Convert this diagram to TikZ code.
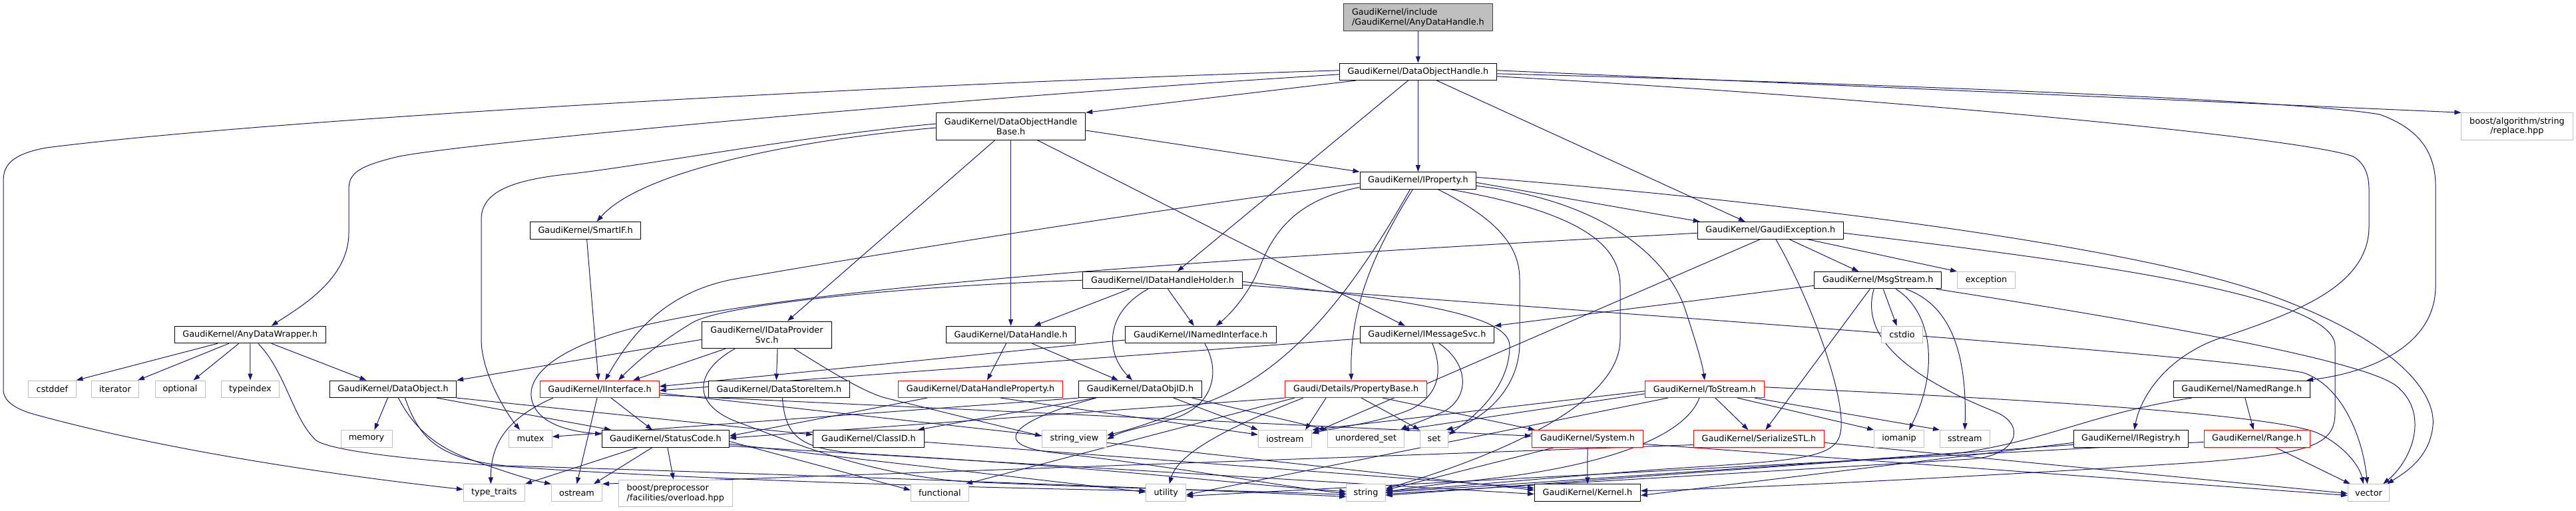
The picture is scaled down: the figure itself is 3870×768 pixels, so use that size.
\documentclass[tikz,border=0pt]{standalone}
\usepackage{fontspec}
\setmainfont{DejaVu Sans}
\usetikzlibrary{arrows.meta}
\pgfdeclarelayer{bg}
\pgfsetlayers{bg,main}
\definecolor{edgec}{HTML}{191970}
\definecolor{grayb}{HTML}{BFBFBF}
\definecolor{topb}{HTML}{404040}
\newcommand\nfont{\fontsize{12.8pt}{14.7pt}\selectfont}
\tikzset{
  nbase/.style={rectangle, inner sep=0pt, font=\nfont, minimum height=25.5pt, line width=1pt, fill=white, align=center},
  ndoc/.style={nbase, draw=black},
  nsys/.style={nbase, draw=grayb},
  ntrunc/.style={nbase, draw=red},
  ntwo/.style={minimum height=40.6pt},
  lnk/.style={draw=edgec, line width=1pt, -{Triangle[length=10pt,width=7pt]}}
}
\begin{document}
\begin{tikzpicture}[x=1pt,y=-1pt]
\useasboundingbox (0,0) rectangle (3870,768);
% row 0
\node[nbase, draw=topb, fill=grayb, ntwo, align=left, minimum width=223.4pt] (top) at (2130.4,26.2) {GaudiKernel/include\\/GaudiKernel/AnyDataHandle.h};
% row 1
\node[ndoc, minimum width=235.9pt] (doh) at (2130.4,107.8) {GaudiKernel/DataObjectHandle.h};
% row 2
\node[ndoc, ntwo, minimum width=224.3pt] (dohb) at (1518.6,190) {GaudiKernel/DataObjectHandle\\Base.h};
\node[nsys, ntwo, minimum width=167.1pt] (boostalg) at (3781.4,190) {boost/algorithm/string\\/replace.hpp};
% row 3
\node[ndoc, minimum width=174.6pt] (iprop) at (2130.4,271.4) {GaudiKernel/IProperty.h};
% row 4
\node[ndoc, minimum width=165.8pt] (smartif) at (879.6,346.3) {GaudiKernel/SmartIF.h};
\node[ndoc, minimum width=219.2pt] (gexc) at (2659.8,346.3) {GaudiKernel/GaudiException.h};
% row 5
\node[ndoc, minimum width=240pt] (idhh) at (1746.6,421.2) {GaudiKernel/IDataHandleHolder.h};
\node[ndoc, minimum width=190.7pt] (msgs) at (2821.2,421.2) {GaudiKernel/MsgStream.h};
\node[nsys, minimum width=87pt] (exception) at (2984,421.2) {exception};
% row 6
\node[ndoc, minimum width=226.8pt] (adw) at (375.8,503) {GaudiKernel/AnyDataWrapper.h};
\node[ndoc, ntwo, minimum width=195pt] (idps) at (1152,503.3) {GaudiKernel/IDataProvider\\Svc.h};
\node[ndoc, minimum width=194.4pt] (dh) at (1518.6,503) {GaudiKernel/DataHandle.h};
\node[ndoc, minimum width=226.8pt] (ini) at (1803.8,503) {GaudiKernel/INamedInterface.h};
\node[ndoc, minimum width=201.5pt] (imsg) at (2143.9,503) {GaudiKernel/IMessageSvc.h};
\node[nsys, minimum width=61.7pt] (cstdio) at (2857.5,503) {cstdio};
% row 7
\node[nsys, minimum width=71.3pt] (cstddef) at (78.4,584.8) {cstddef};
\node[nsys, minimum width=70.9pt] (iterator) at (173,584.8) {iterator};
\node[nsys, minimum width=75pt] (optional) at (270.5,584.8) {optional};
\node[nsys, minimum width=87pt] (typeindex) at (376,584.8) {typeindex};
\node[ndoc, minimum width=190.2pt] (dobj) at (590.5,584.8) {GaudiKernel/DataObject.h};
\node[ntrunc, minimum width=178.3pt] (iint) at (901,584.8) {GaudiKernel/IInterface.h};
\node[ndoc, minimum width=211.8pt] (dsi) at (1170.4,584.8) {GaudiKernel/DataStoreItem.h};
\node[ntrunc, minimum width=247.1pt] (dhp) at (1473,584.8) {GaudiKernel/DataHandleProperty.h};
\node[ndoc, minimum width=184.5pt] (doid) at (1713,584.8) {GaudiKernel/DataObjID.h};
\node[ntrunc, minimum width=213.5pt] (pb) at (2037.1,584.8) {Gaudi/Details/PropertyBase.h};
\node[ntrunc, minimum width=179pt] (tos) at (2560.9,584.8) {GaudiKernel/ToStream.h};
\node[ndoc, minimum width=205.5pt] (nr) at (3367.8,584.8) {GaudiKernel/NamedRange.h};
% row 8
\node[nsys, minimum width=77pt] (memory) at (550.5,659.3) {memory};
\node[nsys, minimum width=64.6pt] (mutex) at (797,659.3) {mutex};
\node[ndoc, minimum width=190.7pt] (sc) at (999.9,659.3) {GaudiKernel/StatusCode.h};
\node[ndoc, minimum width=166.6pt] (classid) at (1305,659.3) {GaudiKernel/ClassID.h};
\node[nsys, minimum width=97pt] (sv) at (1614,659.3) {string\_view};
\node[nsys, minimum width=80.3pt] (iostream) at (1930.5,659.3) {iostream};
\node[nsys, minimum width=115pt] (uset) at (2052,659.3) {unordered\_set};
\node[nsys, minimum width=42.7pt] (set) at (2154.5,659.3) {set};
\node[ntrunc, minimum width=167.1pt] (sysh) at (2385,659.3) {GaudiKernel/System.h};
\node[ntrunc, minimum width=196pt] (sstl) at (2642.4,659.3) {GaudiKernel/SerializeSTL.h};
\node[nsys, minimum width=74.6pt] (iomanip) at (2853,659.3) {iomanip};
\node[nsys, minimum width=74.6pt] (sstream) at (2951.8,659.3) {sstream};
\node[ndoc, minimum width=171.7pt] (ireg) at (3201.4,659.3) {GaudiKernel/IRegistry.h};
\node[ntrunc, minimum width=159pt] (range) at (3390.5,659.3) {GaudiKernel/Range.h};
% row 9
\node[nsys, minimum width=92pt] (tt) at (742.4,740.6) {type\_traits};
\node[nsys, minimum width=75.9pt] (ostream) at (866.5,740.6) {ostream};
\node[nsys, ntwo, align=left, minimum width=170.8pt] (bpp) at (1014.8,741.6) {boost/preprocessor\\/facilities/overload.hpp};
\node[nsys, minimum width=87.1pt] (functional) at (1411.9,740.6) {functional};
\node[nsys, minimum width=59.7pt] (utility) at (1751.8,740.6) {utility};
\node[nsys, minimum width=58.5pt] (string) at (2052,740.6) {string};
\node[ndoc, minimum width=158.8pt] (kernel) at (2384.9,740.6) {GaudiKernel/Kernel.h};
\node[nsys, minimum width=62.4pt] (vector) at (3558.5,740.6) {vector};

\begin{pgfonlayer}{bg}
\draw[lnk] (top) -- (doh);
% DataObjectHandle
\draw[lnk] ([xshift=25pt]doh.south west) -- (dohb.north east);
\draw[lnk] (doh) -- (iprop);
\draw[lnk] ([yshift=-4pt]doh.west) .. controls (1400,150) and (700,215) .. (600,235) .. controls (535,250) and (524,262) .. (524,285) -- (524,350) .. controls (524,420) and (450,462) .. ([xshift=32pt]adw.north);
\draw[lnk] ([yshift=2pt]doh.west) .. controls (1300,128) and (400,180) .. (70,222) .. controls (15,232) and (5,250) .. (5,272) -- (5,585) .. controls (5,602) and (20,615) .. (60,625) .. controls (300,690) and (600,725) .. ([yshift=5pt]tt.west);
\draw[lnk] ([xshift=-15pt]doh.south) -- ([xshift=22pt]idhh.north);
\draw[lnk] ([xshift=28pt]doh.south) -- ([xshift=-38pt]gexc.north);
\draw[lnk] ([yshift=2pt]doh.east) -- (boostalg.north west);
\draw[lnk] ([yshift=-3pt]doh.east) .. controls (2800,125) and (3450,150) .. (3575,172) .. controls (3640,195) and (3659,235) .. (3659,280) -- (3659,430) .. controls (3659,520) and (3560,560) .. ([xshift=-6pt]nr.north east);
\draw[lnk] ([yshift=-7pt]doh.east) .. controls (2800,145) and (3450,205) .. (3535,235) .. controls (3552,245) and (3559,262) .. (3559,285) -- (3559,340) .. controls (3559,430) and (3450,470) .. (3330,510) .. controls (3250,540) and (3215,600) .. ([xshift=5pt]ireg.north);
% DataObjectHandleBase
\draw[lnk] ([yshift=4pt]dohb.west) .. controls (1200,205) and (950,252) .. (850,262) .. controls (760,272) and (723,292) .. (723,330) -- (723,510) .. controls (723,560) and (760,620) .. ([xshift=-16pt]mutex.north);
\draw[lnk] ([yshift=-2pt]dohb.west) .. controls (1180,212) and (960,260) .. ([xshift=17pt]smartif.north);
\draw[lnk] ([xshift=-24pt]dohb.south) -- ([xshift=31pt]idps.north);
\draw[lnk] (dohb) -- (dh);
\draw[lnk] ([xshift=40pt]dohb.south) -- ([xshift=-33pt]imsg.north);
\draw[lnk] ([yshift=-6pt]dohb.east) -- (iprop.north west);
% IProperty
\draw[lnk] ([yshift=-4pt]iprop.west) .. controls (1700,320) and (1300,385) .. (1100,420) .. controls (1000,440) and (950,500) .. ([xshift=8pt]iint.north);
\draw[lnk] ([yshift=-10pt]iprop.west) .. controls (1950,300) and (1915,345) .. (1893,400) .. controls (1875,445) and (1845,475) .. ([xshift=23pt]ini.north);
\draw[lnk] ([xshift=-12pt]iprop.south) .. controls (2020,460) and (1920,575) .. (1790,612) .. controls (1740,632) and (1700,645) .. ([yshift=5pt]sv.east);
\draw[lnk] ([xshift=-8pt]iprop.south) .. controls (2050,400) and (2028,480) .. ([xshift=-7pt]pb.north);
\draw[lnk] ([xshift=30pt]iprop.south) .. controls (2250,330) and (2283,370) .. (2283,420) -- (2283,515) .. controls (2283,590) and (2220,635) .. ([xshift=-4pt]set.north east);
\draw[lnk] ([xshift=48pt]iprop.south) .. controls (2380,320) and (2434,370) .. (2434,430) -- (2434,510) .. controls (2434,620) and (2200,700) .. ([yshift=6pt]string.east);
\draw[lnk] ([yshift=-3pt]iprop.east) -- ([xshift=4pt]gexc.north west);
\draw[lnk] ([yshift=-8pt]iprop.east) .. controls (2400,300) and (2500,380) .. (2530,460) .. controls (2550,520) and (2558,550) .. (tos.north);
\draw[lnk] ([yshift=5pt]iprop.east) .. controls (2700,305) and (3200,370) .. (3400,440) .. controls (3600,510) and (3660,590) .. (3655,640) .. controls (3650,690) and (3610,712) .. ([xshift=-4pt]vector.north east);
% SmartIF
\draw[lnk] ([xshift=2pt]smartif.south) -- ([xshift=-2pt]iint.north);
% GaudiException
\draw[lnk] ([yshift=-4pt]gexc.west) .. controls (2000,380) and (1300,420) .. (1000,482) .. controls (850,512) and (785,560) .. (800,605) .. controls (810,635) and (850,648) .. ([yshift=7pt]sc.west);
\draw[lnk] ([xshift=-15pt]gexc.south) -- ([yshift=8pt]iostream.east);
\draw[lnk] ([xshift=8pt]gexc.south) .. controls (2720,450) and (2775,600) .. (2765,650) .. controls (2758,690) and (2700,692) .. (2500,705) .. controls (2300,720) and (2150,735) .. ([yshift=3pt]string.east);
\draw[lnk] ([xshift=28pt]gexc.south) -- ([xshift=-29pt]msgs.north);
\draw[lnk] ([xshift=55pt]gexc.south) -- (exception.north west);
\draw[lnk] ([yshift=-4pt]gexc.east) .. controls (3100,390) and (3508,440) .. (3508,520) -- (3508,620) .. controls (3508,670) and (3470,682) .. (3300,695) .. controls (3000,715) and (2600,735) .. ([yshift=3pt]kernel.east);
% IDataHandleHolder
\draw[lnk] ([xshift=-50pt]idhh.south) -- ([xshift=35pt]dh.north);
\draw[lnk] ([xshift=-22pt]idhh.south) .. controls (1660,470) and (1660,530) .. ([xshift=-12pt]doid.north);
\draw[lnk] ([xshift=8pt]idhh.south) -- ([xshift=-10pt]ini.north);
\draw[lnk] (idhh.west) .. controls (1400,428) and (1090,455) .. (1040,485) .. controls (990,515) and (955,545) .. ([xshift=28pt]iint.north);
\draw[lnk] ([yshift=-2pt]idhh.east) .. controls (2100,450) and (2268,470) .. (2268,520) .. controls (2268,585) and (2210,630) .. ([yshift=6pt]set.east);
\draw[lnk] ([yshift=-7pt]idhh.east) .. controls (2400,470) and (3300,530) .. (3460,560) .. controls (3520,580) and (3550,660) .. ([xshift=-2pt]vector.north);
% MsgStream
\draw[lnk] ([yshift=-8pt]msgs.west) -- (imsg.north east);
\draw[lnk] ([xshift=-12pt]msgs.south) -- ([xshift=10pt]sstl.north);
\draw[lnk] ([xshift=-6pt]msgs.south) .. controls (2790,520) and (2900,580) .. (3000,620) .. controls (3045,640) and (3030,686) .. (2960,690) .. controls (2600,712) and (2200,735) .. ([yshift=-2pt]string.east);
\draw[lnk] ([xshift=8pt]msgs.south) -- ([xshift=-8pt]cstdio.north);
\draw[lnk] ([xshift=27pt]msgs.south) .. controls (2905,470) and (2912,560) .. ([xshift=15pt]iomanip.north);
\draw[lnk] ([xshift=42pt]msgs.south) .. controls (2935,460) and (2955,540) .. (sstream.north);
\draw[lnk] ([xshift=-8pt]msgs.south east) .. controls (3200,480) and (3550,540) .. (3600,580) .. controls (3650,620) and (3625,690) .. ([xshift=-10pt]vector.north east);
% AnyDataWrapper
\draw[lnk] ([xshift=-49pt]adw.south) -- (cstddef.north east);
\draw[lnk] ([xshift=-32pt]adw.south) -- ([xshift=-2pt]iterator.north east);
\draw[lnk] ([xshift=-17pt]adw.south) -- ([xshift=20pt]optional.north);
\draw[lnk] (adw.south) -- (typeindex.north);
\draw[lnk] ([xshift=12pt]adw.south) .. controls (430,560) and (440,630) .. (475,662) .. controls (540,705) and (1300,730) .. ([yshift=3pt]utility.west);
\draw[lnk] ([xshift=32pt]adw.south) -- ([xshift=-40pt]dobj.north);
% IDataProviderSvc
\draw[lnk] ([yshift=-7pt]idps.west) -- (dobj.north east);
\draw[lnk] ([xshift=-62pt]idps.south) -- ([xshift=50pt]iint.north);
\draw[lnk] ([xshift=-48pt]idps.south) .. controls (1040,560) and (1040,610) .. (1110,635) .. controls (1200,668) and (1300,712) .. (1450,724) .. controls (1700,735) and (1900,738) .. ([yshift=-3pt]string.west);
\draw[lnk] ([xshift=16pt]idps.south) -- ([xshift=-4pt]dsi.north);
\draw[lnk] ([xshift=41pt]idps.south) .. controls (1250,560) and (1300,590) .. (1330,598) .. controls (1420,620) and (1500,640) .. ([yshift=4pt]sv.west);
% DataStoreItem
\draw[lnk] ([xshift=5pt]dsi.south) .. controls (1180,660) and (1205,676) .. (1300,682) .. controls (1700,705) and (1900,732) .. ([yshift=2pt]string.west);
% DataHandle
\draw[lnk] ([xshift=-7pt]dh.south) -- ([xshift=10pt]dhp.north);
\draw[lnk] ([xshift=32pt]dh.south) -- ([xshift=-33pt]doid.north);
% INamedInterface
\draw[lnk] ([yshift=-8pt]ini.west) -- ([yshift=4pt]iint.east);
\draw[lnk] ([xshift=6pt]ini.south) .. controls (1835,560) and (1822,612) .. (1760,630) .. controls (1720,642) and (1690,646) .. ([yshift=-1pt]sv.east);
% IMessageSvc
\draw[lnk] ([yshift=-6pt]imsg.west) -- ([yshift=-2pt]iint.east);
\draw[lnk] ([xshift=8pt]imsg.south) .. controls (2165,550) and (2168,590) .. (2120,615) .. controls (2070,636) and (2010,642) .. ([yshift=8pt]iostream.east);
\draw[lnk] ([xshift=18pt]imsg.south) .. controls (2205,545) and (2210,595) .. (2170,618) .. controls (2140,632) and (2115,640) .. ([xshift=-6pt]uset.north east);
% DataObject
\draw[lnk] ([xshift=-8pt]dobj.south) -- ([xshift=12pt]memory.north);
\draw[lnk] ([xshift=-30pt]dobj.south east) -- ([xshift=-82pt]sc.north);
\draw[lnk] (dobj.south east) -- ([yshift=6pt]classid.west);
\draw[lnk] ([xshift=8pt]dobj.south) .. controls (620,640) and (650,668) .. (700,688) .. controls (760,710) and (800,722) .. (ostream.north west);
\draw[lnk] ([xshift=18pt]dobj.south) .. controls (630,660) and (660,690) .. (760,700) .. controls (1100,710) and (1800,735) .. ([yshift=-6pt]string.west);
% IInterface
\draw[lnk] ([xshift=-70pt]iint.south) .. controls (770,625) and (737,660) .. ([xshift=-5pt]tt.north);
\draw[lnk] ([xshift=-4pt]iint.south) -- (ostream.north);
\draw[lnk] ([xshift=17pt]iint.south) -- ([xshift=-20pt]sc.north);
\draw[lnk] ([yshift=-6pt]iint.east) -- ([yshift=4pt]kernel.west);
\draw[lnk] ([yshift=-9pt]iint.east) -- ([yshift=4pt]sysh.west);
% StatusCode
\draw[lnk] ([xshift=-42pt]sc.south) -- (tt.north east);
\draw[lnk] ([xshift=-20pt]sc.south) -- ([xshift=-13pt]ostream.north east);
\draw[lnk] ([xshift=3pt]sc.south) -- ([xshift=-3pt]bpp.north);
\draw[lnk] ([yshift=-4pt]sc.east) -- ([yshift=4pt]functional.west);
\draw[lnk] ([yshift=-8pt]sc.east) -- ([yshift=1pt]utility.west);
\draw[lnk] ([yshift=-11pt]sc.east) -- ([yshift=-2pt]kernel.west);
% ClassID
\draw[lnk] ([yshift=-5pt]classid.east) -- ([yshift=7pt]kernel.west);
% DataHandleProperty
\draw[lnk] ([xshift=-80pt]dhp.south) -- ([yshift=4pt]sc.east);
\draw[lnk] ([xshift=30pt]dhp.south) -- ([yshift=6pt]iostream.west);
% DataObjID
\draw[lnk] (doid.south west) -- ([yshift=3pt]mutex.east);
\draw[lnk] ([xshift=-68pt]doid.south) -- ([xshift=-10pt]classid.north east);
\draw[lnk] ([xshift=-66pt]doid.south) .. controls (1520,632) and (1485,668) .. (1580,680) .. controls (1760,700) and (1950,735) .. ([yshift=-1pt]string.west);
\draw[lnk] ([xshift=50pt]doid.south) -- (iostream.north west);
\draw[lnk] ([xshift=-15pt]doid.south east) -- (uset.north west);
% PropertyBase
\draw[lnk] (pb.south west) -- ([yshift=1pt]sc.east);
\draw[lnk] ([xshift=15pt]pb.south west) -- ([xshift=-5pt]functional.north east);
\draw[lnk] ([xshift=28pt]pb.south west) .. controls (1850,640) and (1770,680) .. ([xshift=5pt]utility.north);
\draw[lnk] ([xshift=-45pt]pb.south) -- ([xshift=-10pt]iostream.north east);
\draw[lnk] ([xshift=8pt]pb.south) -- (set.north west);
\draw[lnk] ([xshift=40pt]pb.south) -- ([xshift=5pt]sysh.north west);
% ToStream
\draw[lnk] ([yshift=-3pt]tos.west) -- (iostream.north east);
\draw[lnk] ([yshift=-7pt]tos.west) -- ([xshift=-3pt]uset.north east);
\draw[lnk] ([xshift=-8pt]tos.south) .. controls (2530,660) and (2400,700) .. (2250,718) .. controls (2180,726) and (2120,732) .. (string.east);
\draw[lnk] ([xshift=-55pt]tos.south) -- ([yshift=-3pt]utility.east);
\draw[lnk] ([xshift=16pt]tos.south) -- ([xshift=-16pt]sstl.north);
\draw[lnk] ([xshift=49pt]tos.south) -- (iomanip.north west);
\draw[lnk] ([xshift=75pt]tos.south) -- (sstream.north west);
\draw[lnk] ([yshift=3pt]tos.east) .. controls (3000,598) and (3400,620) .. (3480,650) .. controls (3520,668) and (3545,700) .. ([xshift=-8pt]vector.north);
% System
\draw[lnk] (sysh) -- (kernel);
\draw[lnk] ([xshift=-50pt]sysh.south) -- ([yshift=4pt]string.east);
\draw[lnk] ([yshift=-8pt]sysh.east) -- ([yshift=-4pt]vector.west);
% SerializeSTL
\draw[lnk] ([yshift=-6pt]sstl.east) -- ([yshift=-1pt]vector.west);
\draw[lnk] ([yshift=4pt]sstl.south west) -- (ostream.north east);
% IRegistry
\draw[lnk] ([yshift=-6pt]ireg.west) -- ([yshift=-4pt]kernel.east);
\draw[lnk] ([yshift=-9pt]ireg.west) -- ([yshift=-4pt]string.east);
% NamedRange
\draw[lnk] ([xshift=5pt]nr.south) -- ([xshift=-5pt]range.north);
\draw[lnk] ([xshift=-75pt]nr.south) .. controls (3150,620) and (3080,660) .. (2950,680) .. controls (2600,705) and (2250,730) .. ([yshift=1pt]string.east);
% Range
\draw[lnk] ([xshift=28pt]range.south) -- ([xshift=4pt]vector.north west);
\draw[lnk] ([yshift=-5pt]range.west) -- ([yshift=-5pt]utility.east);
\end{pgfonlayer}
\end{tikzpicture}
\end{document}
